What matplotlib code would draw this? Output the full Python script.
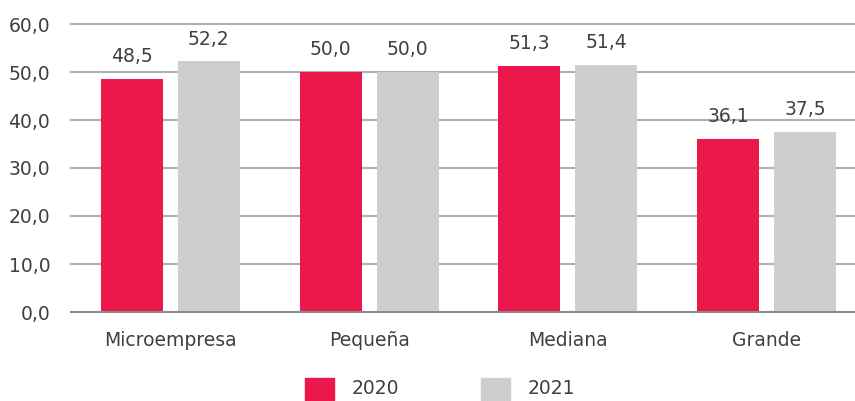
import matplotlib
matplotlib.use("Agg")
import matplotlib.pyplot as plt
import numpy as np
from matplotlib.patches import Rectangle

plt.rcParams['font.family'] = ['DejaVu Sans']

categories = ["Microempresa", "Pequeña", "Mediana", "Grande"]
series_names = ["2020", "2021"]
values_2020 = [48.5, 50.0, 51.3, 36.1]
values_2021 = [52.2, 50.0, 51.4, 37.5]
y_ticks = [0, 10, 20, 30, 40, 50, 60]

RED = "#EC174B"
GRAY = "#CDCECD"
TEXT = "#404040"
GRID = "#AFAFAF"
FS = 13.5

fig = plt.figure(figsize=(8.55, 4.01), dpi=100)
ax = fig.add_axes([71 / 855, 1 - 312 / 401, 795 / 855, 288 / 401])

x = np.arange(len(categories))
w = 0.312
gap = 0.075
off = (w + gap) / 2

fmt = lambda v: f"{v:.1f}".replace(".", ",")

b1 = ax.bar(x - off, values_2020, w, color=RED, zorder=3)
b2 = ax.bar(x + off, values_2021, w, color=GRAY, zorder=3)
for bars, vals in ((b1, values_2020), (b2, values_2021)):
    for r, v in zip(bars, vals):
        ax.text(r.get_x() + r.get_width() / 2, v + 3.5, fmt(v),
                ha="center", va="baseline", fontsize=FS, color=TEXT)

ax.set_xlim(-0.5, len(categories) - 0.5)
ax.set_ylim(0, 60)
ax.set_yticks(y_ticks)
ax.set_yticklabels([fmt(t) for t in y_ticks], fontsize=FS, color=TEXT)
ax.set_xticks(x)
ax.set_xticklabels(categories, fontsize=FS, color=TEXT)
ax.tick_params(axis="both", length=0)
ax.tick_params(axis="y", pad=15)
ax.tick_params(axis="x", pad=14)
ax.yaxis.grid(True, color=GRID, linewidth=1.5, zorder=0)
for gl in ax.get_ygridlines():
    gl.set_clip_on(False)
for s in ("top", "right", "left"):
    ax.spines[s].set_visible(False)
ax.spines["bottom"].set_color("#8C8C8C")
ax.spines["bottom"].set_linewidth(1.5)
ax.spines["bottom"].set_zorder(4)

# legend
for xs, col, lab in ((305, RED, series_names[0]), (481, GRAY, series_names[1])):
    fig.patches.append(Rectangle((xs / 855, 1 - 400 / 401), 29 / 855, 22 / 401,
                                 transform=fig.transFigure, color=col))
    fig.text((xs + 47) / 855, 1 - 389 / 401, lab, fontsize=FS, color=TEXT,
             va="center", ha="left")

fig.savefig("out.png", dpi=100)
